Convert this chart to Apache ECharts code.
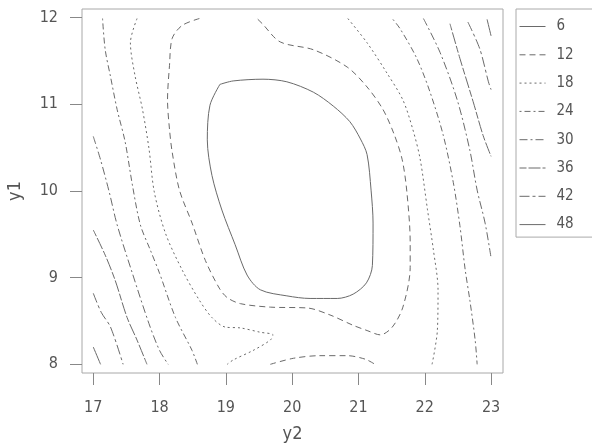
<!DOCTYPE html>
<html>
<head>
<meta charset="utf-8">
<script src="https://cdn.jsdelivr.net/npm/echarts@6/dist/echarts.min.js"></script>
<style>
  html, body { margin: 0; padding: 0; background: #fff; }
  #chart { width: 592px; height: 444px; }
</style>
</head>
<body>
<div id="chart"></div>
<script>
// contour levels and tick labels
const levels = ['6', '12', '18', '24', '30', '36', '42', '48']
const xTicks = [17, 18, 19, 20, 21, 22, 23]
const yTicks = [8, 9, 10, 11, 12]

// contour pieces, [y2, y1]
const lev6 = [[18.91,11.23],[19.11,11.27],[19.56,11.29],[19.92,11.26],[20.32,11.14],[20.62,10.98],[20.87,10.80],[21.03,10.60],[21.13,10.42],[21.19,10.01],[21.22,9.63],[21.21,9.14],[21.12,8.94],[20.92,8.81],[20.68,8.76],[20.27,8.76],[19.92,8.79],[19.52,8.86],[19.32,9.03],[19.14,9.38],[18.94,9.78],[18.79,10.18],[18.72,10.59],[18.76,10.99],[18.91,11.23]]
const lev12a = [[18.60,11.99],[18.34,11.91],[18.19,11.76],[18.15,11.45],[18.12,11.05],[18.15,10.71],[18.19,10.45],[18.30,10.01],[18.49,9.63],[18.69,9.20],[18.90,8.88],[19.02,8.77],[19.22,8.70],[19.67,8.66],[20.23,8.65],[20.57,8.57],[20.92,8.45],[21.13,8.39],[21.33,8.34],[21.51,8.43],[21.67,8.66],[21.78,9.12],[21.78,9.41],[21.73,9.99],[21.66,10.36],[21.54,10.65],[21.37,10.94],[21.13,11.20],[20.83,11.43],[20.32,11.63],[19.82,11.72],[19.55,11.93],[19.47,11.99]]
const lev12b = [[19.67,8.00],[20.02,8.07],[20.42,8.10],[20.83,8.10],[21.10,8.06],[21.25,8.00]]
const lev18a = [[17.66,11.99],[17.56,11.71],[17.63,11.33],[17.74,10.95],[17.84,10.49],[17.92,9.99],[18.09,9.51],[18.34,9.09],[18.60,8.74],[18.79,8.54],[18.99,8.43],[19.22,8.42],[19.52,8.37],[19.71,8.34],[19.67,8.28],[19.41,8.16],[19.11,8.05],[19.02,8.00]]
const lev18b = [[20.84,11.99],[21.13,11.71],[21.43,11.36],[21.67,11.05],[21.82,10.71],[21.93,10.37],[22.04,9.79],[22.13,9.32],[22.20,8.86],[22.19,8.39],[22.11,8.00]]
const lev24a = [[17.14,11.99],[17.18,11.63],[17.26,11.32],[17.36,10.94],[17.48,10.57],[17.59,10.07],[17.71,9.61],[17.86,9.32],[18.00,9.05],[18.24,8.54],[18.49,8.16],[18.57,8.00]]
const lev24b = [[21.52,11.98],[21.63,11.87],[21.88,11.53],[22.08,11.14],[22.28,10.64],[22.43,10.10],[22.53,9.60],[22.61,9.09],[22.68,8.74],[22.76,8.28],[22.79,8.00]]
const lev30a = [[17.00,10.63],[17.11,10.36],[17.24,9.99],[17.36,9.61],[17.59,9.05],[17.84,8.47],[18.00,8.16],[18.13,8.00]]
const lev30b = [[21.98,11.99],[22.23,11.60],[22.49,11.05],[22.68,10.47],[22.79,10.01],[22.91,9.63],[23.00,9.23]]
const lev36a = [[17.00,9.55],[17.18,9.26],[17.33,8.97],[17.51,8.54],[17.66,8.28],[17.81,8.00]]
const lev36b = [[22.38,11.93],[22.53,11.53],[22.73,11.03],[22.88,10.64],[23.00,10.40]]
const lev42a = [[17.00,8.82],[17.12,8.60],[17.26,8.43],[17.45,8.00]]
const lev42b = [[22.65,11.95],[22.83,11.64],[22.96,11.26],[23.00,11.17]]
const lev48a = [[17.00,8.20],[17.11,8.00]]
const lev48b = [[22.94,11.98],[23.00,11.79]]

const pieces = [
  ['6', lev6], ['12', lev12a], ['12', lev12b],
  ['18', lev18a], ['18', lev18b], ['24', lev24a], ['24', lev24b],
  ['30', lev30a], ['30', lev30b], ['36', lev36a], ['36', lev36b],
  ['42', lev42a], ['42', lev42b], ['48', lev48a], ['48', lev48b]
]

const dashes = {
  '6': 'solid',
  '12': [6, 4],
  '18': [2, 3],
  '24': [2, 3, 6, 3],
  '30': [8, 3, 2, 3],
  '36': [7, 2, 12, 2],
  '42': [10, 3, 3, 3],
  '48': 'solid'
}

const lineColor = '#6a6a6a'
const textColor = '#555'
const font = '"Liberation Sans Narrow", "DejaVu Sans Condensed", "Liberation Sans", sans-serif'

const chart = echarts.init(document.getElementById('chart'))
const option = {
  animation: false,
  backgroundColor: '#fff',
  grid: {
    left: 82,
    right: 89,
    top: 9,
    bottom: 71,
    outerBoundsMode: 'none',
    show: true,
    borderColor: '#a8a8a8',
    borderWidth: 1
  },
  legend: {
    orient: 'vertical',
    left: 516,
    top: 9,
    padding: [10, 24, 5, 3],
    itemWidth: 26,
    itemHeight: 14,
    itemGap: 13.3,
    borderColor: '#aaa',
    borderWidth: 1,
    itemStyle: { opacity: 0 },
    lineStyle: { width: 1 },
    textStyle: { color: textColor, fontSize: 15, fontFamily: font, padding: [0, 0, 0, 6] },
    data: levels
  },
  xAxis: {
    type: 'value',
    min: 16.83,
    max: 23.18,
    name: 'y2',
    nameLocation: 'middle',
    nameGap: 52,
    nameTextStyle: { color: textColor, fontSize: 18, fontFamily: font },
    splitLine: { show: false },
    axisLine: { show: false },
    axisTick: { show: true, length: 12, customValues: xTicks, lineStyle: { color: '#888' } },
    axisLabel: { customValues: xTicks, margin: 27, color: textColor, fontSize: 16, fontFamily: font }
  },
  yAxis: {
    type: 'value',
    min: 7.9,
    max: 12.1,
    name: 'y1',
    nameLocation: 'middle',
    nameGap: 58,
    nameTextStyle: { color: textColor, fontSize: 18, fontFamily: font },
    splitLine: { show: false },
    axisLine: { show: false },
    axisTick: { show: true, length: 12, customValues: yTicks, lineStyle: { color: '#888' } },
    axisLabel: { customValues: yTicks, margin: 24, color: textColor, fontSize: 16, fontFamily: font }
  },
  series: pieces.map(([lev, data]) => ({
    name: lev,
    type: 'line',
    symbol: 'none',
    smooth: 0.3,
    silent: true,
    lineStyle: { color: lineColor, width: 1, type: dashes[lev] },
    itemStyle: { color: lineColor },
    data: data
  }))
}

chart.setOption(option)
window.addEventListener('resize', () => {
  chart.resize()
})
</script>
</body>
</html>
